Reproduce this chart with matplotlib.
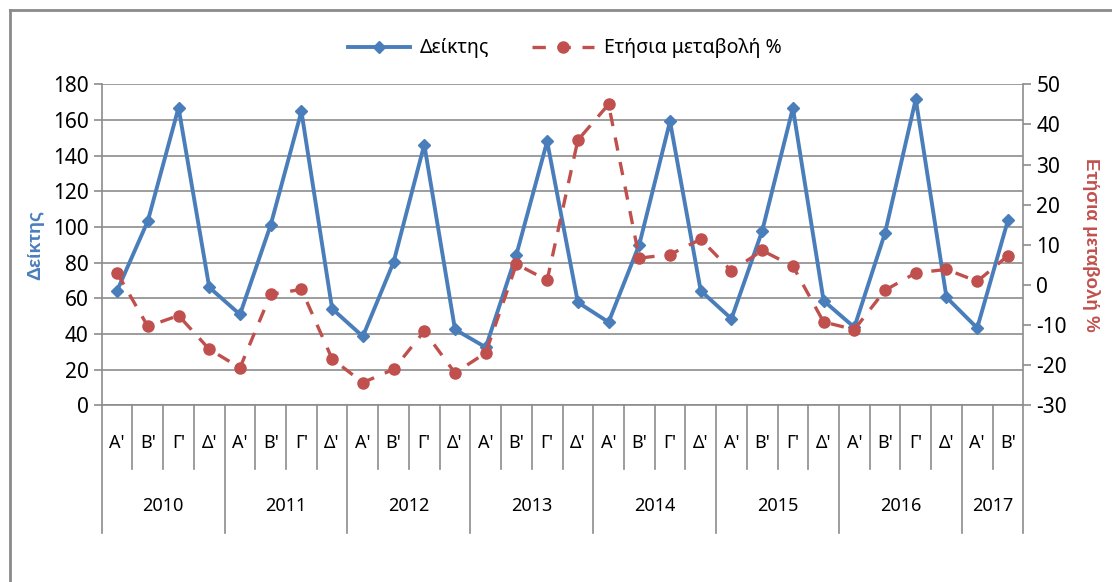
import matplotlib
matplotlib.use("Agg")
import matplotlib.pyplot as plt
from matplotlib.lines import Line2D
from matplotlib.transforms import blended_transform_factory

plt.rcParams['font.family'] = ['Noto Sans', 'DejaVu Sans']
plt.rcParams['axes.unicode_minus'] = False

# data
years = ["2010", "2011", "2012", "2013", "2014", "2015", "2016", "2017"]
quarters_per_year = [4, 4, 4, 4, 4, 4, 4, 2]
quarter_names = ["Α'", "Β'", "Γ'", "Δ'"]

deiktis = [64.3, 103.4, 166.9, 66.2,
           51.0, 101.2, 164.8, 54.2,
           38.7, 80.3, 146.2, 42.6,
           32.6, 84.6, 148.0, 57.8,
           46.7, 90.2, 159.2, 64.3,
           48.6, 97.8, 166.7, 58.7,
           43.8, 96.7, 171.6, 60.6,
           43.4, 103.7]

metaboli = [3.0, -10.3, -7.6, -16.0,
            -20.6, -2.3, -1.1, -18.4,
            -24.3, -21.0, -11.5, -21.9,
            -16.9, 5.2, 1.2, 36.1,
            45.0, 6.7, 7.6, 11.4,
            3.5, 8.6, 4.7, -9.2,
            -11.1, -1.3, 3.0, 3.9,
            0.9, 7.3]

blue = "#4A7EBB"
red = "#C0504D"
grid_col = "#8C8C8C"

n = len(deiktis)
x = list(range(n))

fig = plt.figure(figsize=(11.12, 5.82), dpi=100)
ax = fig.add_axes([0.0915, 0.3033, 0.8287, 0.5519])
ax2 = ax.twinx()

ax.plot(x, deiktis, color=blue, lw=2.8, marker="D", ms=6.5, label="Δείκτης", zorder=3)
ax2.plot(x, metaboli, color=red, lw=2.4, ls=(0, (4, 3.5)), marker="o", ms=8,
         label="Ετήσια μεταβολή %", zorder=3)

ax.set_xlim(-0.5, n - 0.5)
ax.set_ylim(0, 180)
ax.set_yticks(range(0, 181, 20))
ax2.set_ylim(-30, 50)
ax2.set_yticks(range(-30, 51, 10))

ax.grid(axis="y", color=grid_col, lw=1.2)
ax.set_axisbelow(True)
ax.set_xticks([])

for a in (ax, ax2):
    for s in a.spines.values():
        s.set_visible(False)
    a.tick_params(axis="y", colors=grid_col, labelcolor="black", labelsize=15,
                  length=6, width=1.2)
ax.spines["left"].set_visible(True)
ax.spines["left"].set_color(grid_col)
ax.spines["left"].set_linewidth(1.2)
ax.spines["bottom"].set_visible(True)
ax.spines["bottom"].set_color(grid_col)
ax.spines["bottom"].set_linewidth(1.2)
ax2.spines["right"].set_visible(True)
ax2.spines["right"].set_color(grid_col)
ax2.spines["right"].set_linewidth(1.2)

lab_font = ['Liberation Sans', 'DejaVu Sans']
ax.set_ylabel("Δείκτης", color=blue, fontsize=14, fontweight="bold", family=lab_font,
              labelpad=6)
ax2.set_ylabel("Ετήσια μεταβολή %", color=red, fontsize=13.5, fontweight="bold",
               family=lab_font, rotation=270, labelpad=24)

# two-level category axis
tr = blended_transform_factory(ax.transData, ax.transAxes)
q_lab_y = -0.117
q_sep_y = -0.198
y_lab_y = -0.313
y_sep_y = -0.397

start = 0
for yr, nq in zip(years, quarters_per_year):
    for q in range(nq):
        i = start + q
        ax.text(i, q_lab_y, quarter_names[q], transform=tr, ha="center", va="center",
                fontsize=13)
        if q > 0:
            ax.add_line(Line2D([i - 0.5, i - 0.5], [0, q_sep_y], transform=tr,
                               color=grid_col, lw=1.2, clip_on=False))
    ax.add_line(Line2D([start - 0.5, start - 0.5], [0, y_sep_y], transform=tr,
                       color=grid_col, lw=1.2, clip_on=False))
    ax.text(start + (nq - 1) / 2, y_lab_y, yr, transform=tr, ha="center", va="center",
            fontsize=13)
    start += nq
ax.add_line(Line2D([start - 0.5, start - 0.5], [0, y_sep_y], transform=tr,
                   color=grid_col, lw=1.2, clip_on=False))

# legend
h1, l1 = ax.get_legend_handles_labels()
h2, l2 = ax2.get_legend_handles_labels()
fig.legend(h1 + h2, l1 + l2, loc="center", bbox_to_anchor=(0.508, 0.917), ncol=2,
           frameon=False, fontsize=14, handlelength=3.2, columnspacing=2.2,
           handletextpad=0.5)

# chart area border (only top and left visible)
fig.add_artist(Line2D([9.5 / 1112, 1.0], [1 - 10 / 582, 1 - 10 / 582],
                      transform=fig.transFigure, color="#8A8A8A", lw=2))
fig.add_artist(Line2D([9.5 / 1112, 9.5 / 1112], [0.0, 1 - 10 / 582],
                      transform=fig.transFigure, color="#8A8A8A", lw=2))

fig.savefig("out.png", dpi=100)
